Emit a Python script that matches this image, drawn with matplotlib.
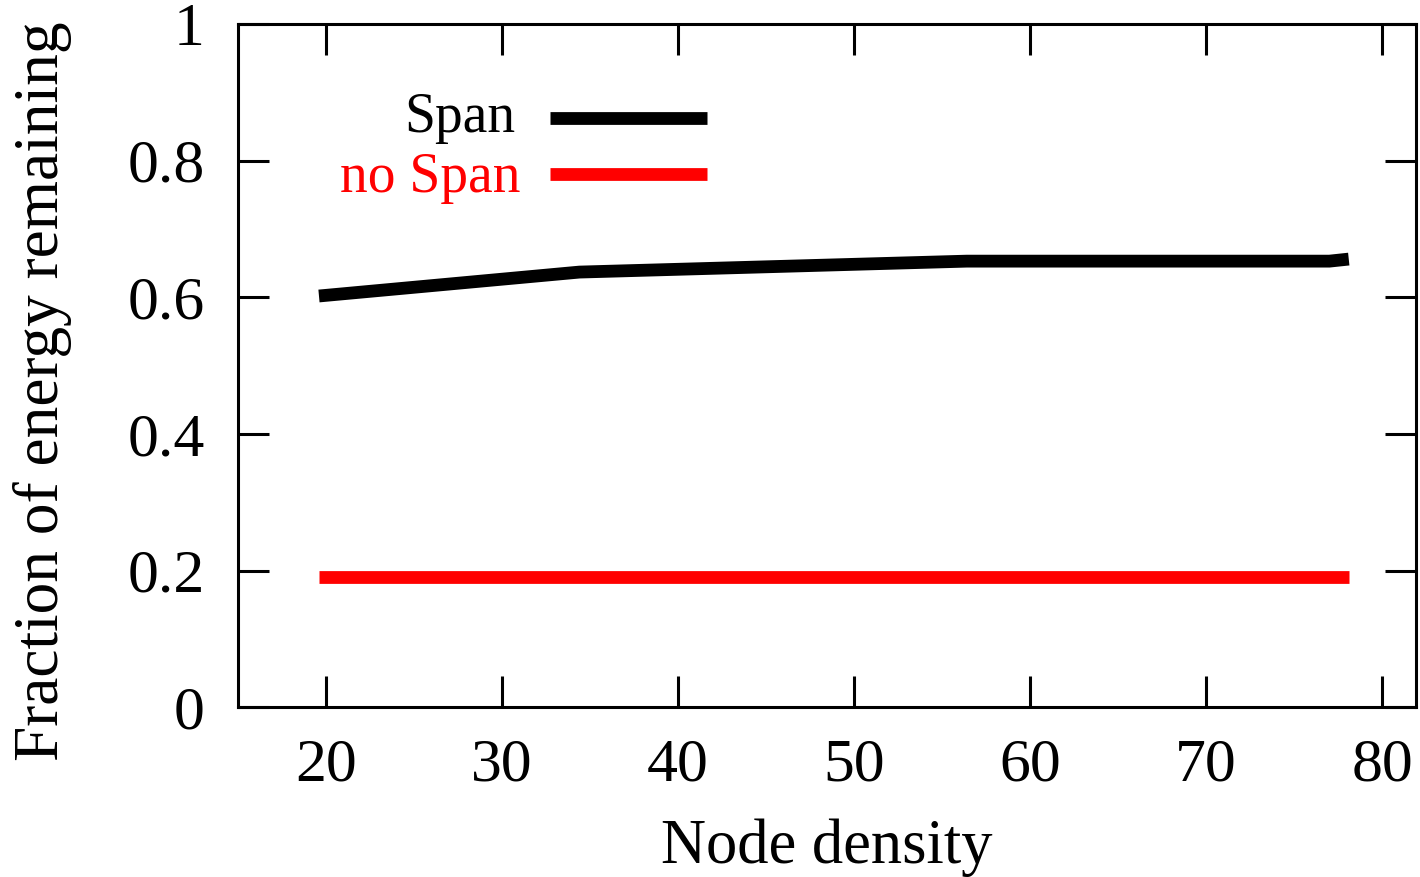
import matplotlib
matplotlib.use("Agg")
import matplotlib.pyplot as plt

# Fraction of energy remaining vs node density
span_x = [19.6, 34.4, 56.4, 77.0, 78.1]
span_y = [0.602, 0.637, 0.653, 0.653, 0.656]
nospan_x = [19.6, 78.1]
nospan_y = [0.191, 0.191]

xticks = [20, 30, 40, 50, 60, 70, 80]
yticks = [0, 0.2, 0.4, 0.6, 0.8, 1.0]
yticklabels = ["0", "0.2", "0.4", "0.6", "0.8", "1"]

plt.rcParams["font.family"] = ["Liberation Serif", "DejaVu Serif"]

W, H = 1420, 877
fig = plt.figure(figsize=(W / 100, H / 100), dpi=100)
ax = fig.add_axes([238 / W, 1 - 707.4 / H, (1416 - 238) / W, (707.4 - 24) / H])

lw = 9.2
ax.plot(span_x, span_y, color="black", lw=lw, solid_capstyle="butt", solid_joinstyle="miter")
ax.plot(nospan_x, nospan_y, color="#ff0000", lw=lw, solid_capstyle="butt")

ax.set_xlim(15, 81.92)
ax.set_ylim(0, 1)
ax.set_xticks(xticks)
ax.set_xticklabels([str(t) for t in xticks])
ax.set_yticks(yticks)
ax.set_yticklabels(yticklabels)

for s in ax.spines.values():
    s.set_linewidth(2.2)

ax.tick_params(axis="both", which="both", direction="in", length=22, width=2.2,
               top=True, right=True, labelsize=44.5)
ax.tick_params(axis="x", pad=22)
ax.tick_params(axis="y", pad=24)

ax.set_xlabel("Node density", fontsize=45, labelpad=18)
ax.set_ylabel("Fraction of energy remaining", fontsize=45.5)
ax.yaxis.set_label_coords(-0.141, (707.4 - 391) / (707.4 - 24))

# Legend: right-aligned labels followed by line samples
def fx(px):
    return px / W

def fy(py):
    return 1 - py / H

legend_items = [("Span", "black", 132, 117.5, 515), ("no Span", "#ff0000", 192, 173.7, 520)]
for label, color, base_px, line_px, right_px in legend_items:
    fig.text(fx(right_px), fy(base_px), label, color=color, fontsize=40,
             ha="right", va="baseline")
    fig.add_artist(plt.Line2D([fx(550), fx(706.7)], [fy(line_px), fy(line_px)],
                              color=color, lw=lw, solid_capstyle="butt"))

fig.savefig("out.png", dpi=100)
